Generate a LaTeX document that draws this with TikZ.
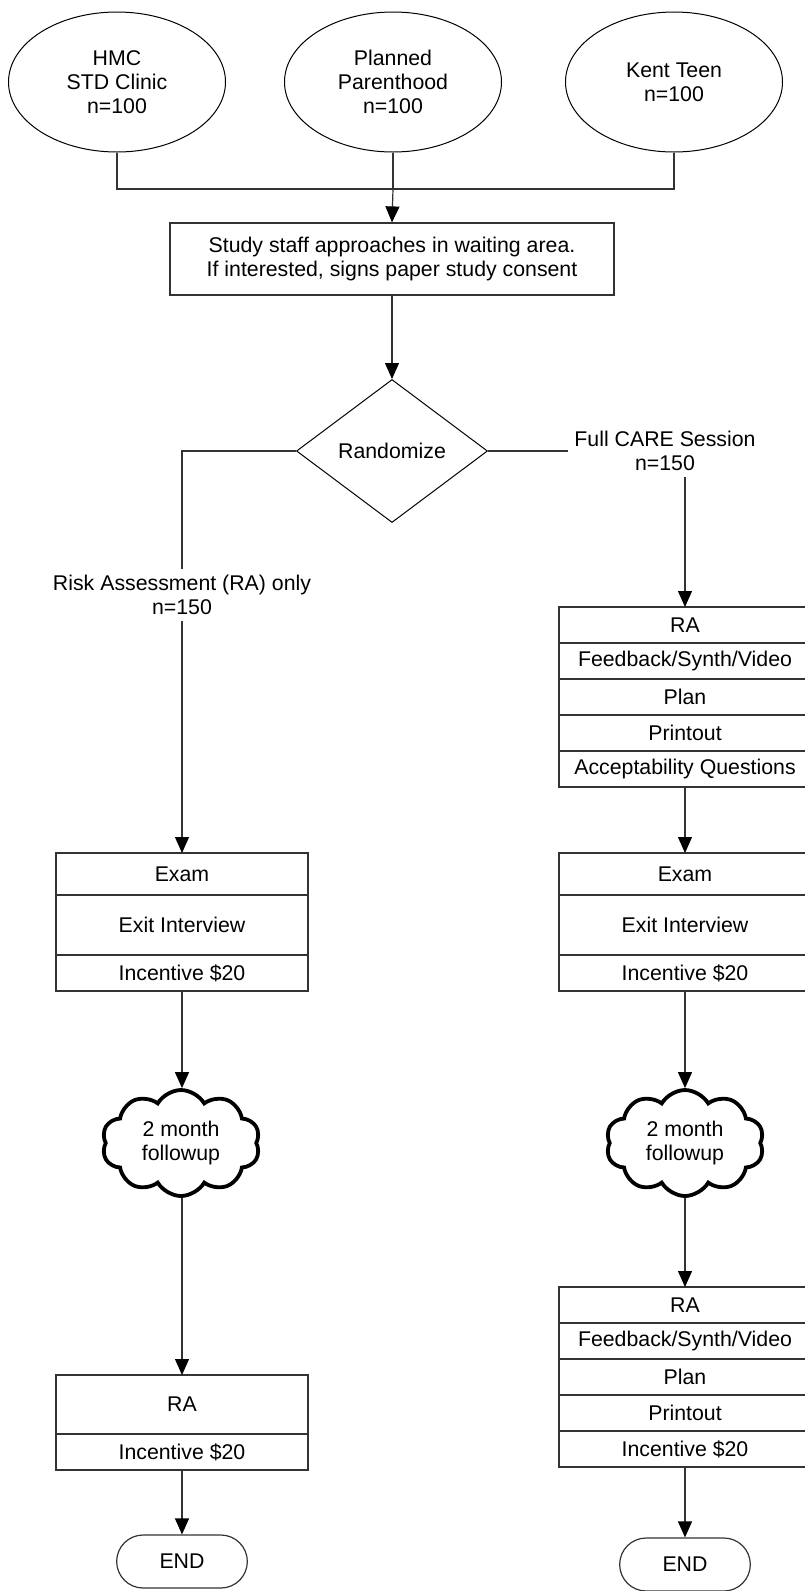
\documentclass[tikz,border=0pt]{standalone}
\usepackage{fontspec}
\setmainfont{Liberation Sans}
\usetikzlibrary{shapes.geometric, shapes.misc, shapes.symbols}
\usetikzlibrary{arrows.meta, positioning}

\tikzset{
  every node/.style={font=\fontsize{10.65}{12}\selectfont},
  line/.style={draw=black!80, line width=.6pt},
  arr/.style={line, -{Triangle[width=7pt,length=8pt,color=black]}},
  site/.style={ellipse, draw, line width=.5pt, minimum width=108.5pt, minimum height=70pt, align=center, inner sep=0pt},
  row/.style={rectangle, draw=black!80, line width=.6pt, minimum width=126pt, minimum height=18pt, inner sep=0pt, outer sep=0pt},
  fup/.style={cloud, draw, line width=1.9pt, cloud puffs=10, cloud puff arc=120, aspect=1.5, minimum width=79pt, minimum height=53pt, align=center, inner sep=0pt},
  fin/.style={rounded rectangle, draw=black!80, line width=.6pt, minimum width=72pt, minimum height=26.5pt},
}

\begin{document}
\begin{tikzpicture}[x=0.5pt, y=-0.5pt]
\useasboundingbox (0,0) rectangle (804,1591);

% sites
\node[site] (hmc) at (117,82) {HMC\\STD Clinic\\n=100};
\node[site] (pp) at (393,82) {Planned\\Parenthood\\n=100};
\node[site] (kent) at (674,82) {Kent Teen\\n=100};
\coordinate (join) at (393,189);
\draw[line] (hmc.south) |- (join);
\draw[line] (kent.south) |- (join);
\draw[line] (pp.south) -- (join);

\node[line, rectangle, minimum width=222pt, minimum height=36pt, align=center] (consent) at (392,259)
  {Study staff approaches in waiting area.\\If interested, signs paper study consent};
\draw[arr] (join) -- (consent.north);

\node[diamond, draw, line width=.5pt, minimum width=95.5pt, minimum height=71.5pt, inner sep=0pt] (rand) at (392,451) {Randomize};
\draw[arr] (consent.south) -- (rand.north);

% two arms
\node[align=center, inner sep=3pt] (raonly) at (182,595) {Risk Assessment (RA) only\\n=150};
\node[align=center, inner sep=3pt] (care) at (665,451) {Full CARE Session\\n=150};
\draw[line] (rand.west) -| (raonly.north);
\draw[line] (rand.east) -- (care.west);

% RA only arm
\node[row, minimum height=21pt] (exL) at (182,874) {Exam};
\node[row, minimum height=30pt, below=0pt of exL] (exitL) {Exit Interview};
\node[row, below=0pt of exitL] (incL) {Incentive \$20};
\draw[arr] (raonly.south) -- (exL.north);

\node[fup] (fupL) at (181,1143) {2 month\\followup};
\draw[arr] (incL.south) -- (fupL.north -| incL.south);

\node[row, minimum height=29.5pt] (raL) at (182,1404.5) {RA};
\node[row, below=0pt of raL] (incL2) {Incentive \$20};
\draw[arr] (fupL.south -| raL.north) -- (raL.north);

\node[fin] (endL) at (182,1561.5) {END};
\draw[arr] (incL2.south) -- (endL.north);

% full CARE arm
\node[row] (raR) at (685,625) {RA};
\node[row, below=0pt of raR] (fbR) {Feedback/Synth/Video};
\node[row, below=0pt of fbR] (planR) {Plan};
\node[row, below=0pt of planR] (prR) {Printout};
\node[row, below=0pt of prR] (accR) {Acceptability Questions};
\draw[arr] (care.south -| raR.north) -- (raR.north);

\node[row, minimum height=21pt] (exR) at (685,874) {Exam};
\node[row, minimum height=30pt, below=0pt of exR] (exitR) {Exit Interview};
\node[row, below=0pt of exitR] (incR) {Incentive \$20};
\draw[arr] (accR.south) -- (exR.north);

\node[fup] (fupR) at (685,1143) {2 month\\followup};
\draw[arr] (incR.south) -- (fupR.north);

\node[row] (raR2) at (685,1305) {RA};
\node[row, below=0pt of raR2] (fbR2) {Feedback/Synth/Video};
\node[row, below=0pt of fbR2] (planR2) {Plan};
\node[row, below=0pt of planR2] (prR2) {Printout};
\node[row, below=0pt of prR2] (incR2) {Incentive \$20};
\draw[arr] (fupR.south) -- (raR2.north);

\node[fin] (endR) at (685,1564.5) {END};
\draw[arr] (incR2.south) -- (endR.north);
\end{tikzpicture}
\end{document}
